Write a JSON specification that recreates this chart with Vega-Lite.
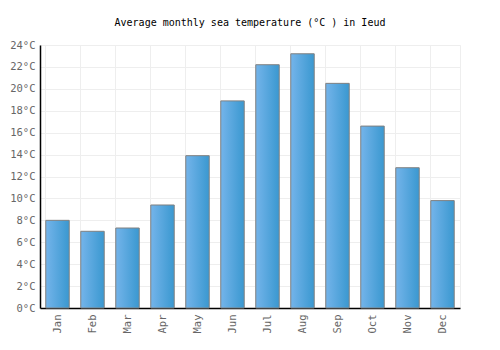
{
  "$schema": "https://vega.github.io/schema/vega-lite/v6.json",
  "width": 420,
  "height": 263,
  "autosize": {"type": "none"},
  "padding": {"left": 40, "top": 45, "right": 40, "bottom": 42},
  "background": "white",
  "title": {
    "text": "Average monthly sea temperature (°C ) in Ieud",
    "font": "DejaVu Sans Mono",
    "fontSize": 10,
    "fontWeight": "normal",
    "color": "#000000",
    "anchor": "middle",
    "offset": 12
  },
  "config": {
    "view": {"stroke": "#eeeeee", "strokeWidth": 1},
    "axis": {
      "labelFont": "DejaVu Sans Mono",
      "labelFontSize": 10.5,
      "labelColor": "#666666",
      "gridColor": "#eeeeee",
      "gridWidth": 1,
      "domainColor": "#000000",
      "ticks": false,
      "title": null
    }
  },
  "data": {
    "values": [
      {"month": "Jan", "temp": 8.0},
      {"month": "Feb", "temp": 7.0},
      {"month": "Mar", "temp": 7.3},
      {"month": "Apr", "temp": 9.4},
      {"month": "May", "temp": 13.9},
      {"month": "Jun", "temp": 18.9},
      {"month": "Jul", "temp": 22.2},
      {"month": "Aug", "temp": 23.2},
      {"month": "Sep", "temp": 20.5},
      {"month": "Oct", "temp": 16.6},
      {"month": "Nov", "temp": 12.8},
      {"month": "Dec", "temp": 9.8}
    ]
  },
  "mark": {
    "type": "bar",
    "stroke": "#808080",
    "strokeWidth": 1,
    "color": {
      "gradient": "linear",
      "x1": 0, "x2": 1, "y1": 0, "y2": 0,
      "stops": [
        {"offset": 0, "color": "#74b4ea"},
        {"offset": 1, "color": "#3a98d0"}
      ]
    }
  },
  "encoding": {
    "x": {
      "field": "month",
      "type": "nominal",
      "sort": null,
      "scale": {"paddingInner": 0.33, "paddingOuter": 0.165},
      "axis": {
        "labelAngle": -90,
        "labelPadding": 6,
        "grid": true,
        "bandPosition": 0,
        "domainWidth": 1.5,
        "labelBaseline": "middle",
        "labelAlign": "right"
      }
    },
    "y": {
      "field": "temp",
      "type": "quantitative",
      "scale": {"domain": [0, 24]},
      "axis": {
        "values": [0, 2, 4, 6, 8, 10, 12, 14, 16, 18, 20, 22, 24],
        "labelExpr": "datum.value + '°C'",
        "labelPadding": 5,
        "domainWidth": 1.5,
        "grid": true
      }
    }
  }
}
